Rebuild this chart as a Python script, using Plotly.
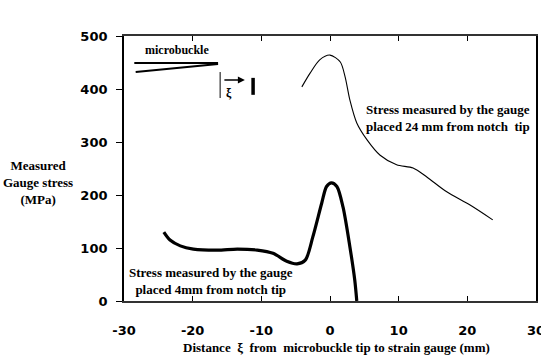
import plotly.graph_objects as go

# Gauge placed 24 mm from notch tip (thin curve)
far_x = [-4.1, -2.9, -1.5, 0.0, 1.5, 2.2, 2.9, 3.9, 5.4, 7.3, 9.7, 12.1, 14.1, 17.0, 20.4, 23.7]
far_y = [404, 430, 455, 464, 451, 423, 379, 336, 304, 275, 257, 251, 234, 206, 181, 153]

# Gauge placed 4 mm from notch tip (thick curve)
near_x = [-24.2, -23.3, -21.8, -19.9, -16.4, -13.5, -10.6, -8.3, -6.3, -4.8, -3.6, -2.5, -1.2, -0.5, 0.2, 1.0, 1.9, 2.9, 3.6, 3.9]
near_y = [130, 115, 104, 98, 96, 98, 96, 90, 75, 70, 77, 121, 185, 216, 223, 216, 177, 102, 40, 0]

x_ticks = [-30, -20, -10, 0, 10, 20, 30]
y_ticks = [0, 100, 200, 300, 400, 500]

serif = "Liberation Serif"
tickfont = dict(family="DejaVu Sans", size=13, color="black")

fig = go.Figure()
fig.add_trace(go.Scatter(x=far_x, y=far_y, mode="lines",
                         line=dict(color="black", width=1.1, shape="spline", smoothing=0.8),
                         showlegend=False, hoverinfo="skip"))
fig.add_trace(go.Scatter(x=near_x, y=near_y, mode="lines",
                         line=dict(color="black", width=3.2, shape="spline", smoothing=0.8),
                         showlegend=False, hoverinfo="skip"))

fig.update_xaxes(range=[-30, 30], tickvals=x_ticks, ticktext=["<b>%d</b>" % v for v in x_ticks],
                 ticks="inside", ticklen=5, tickwidth=1.2, tickcolor="black",
                 showline=True, linecolor="#333", linewidth=1.5, mirror="ticks",
                 showgrid=False, zeroline=False, tickfont=tickfont,
                 ticklabelstandoff=17, ticklabeloverflow="allow")
fig.update_yaxes(range=[0, 500], tickvals=y_ticks, ticktext=["<b>%d</b>" % v for v in y_ticks],
                 ticks="outside", ticklen=6, tickwidth=1.2, tickcolor="black",
                 showline=True, linecolor="black", linewidth=1.8, mirror=True,
                 showgrid=False, zeroline=False, tickfont=tickfont,
                 ticklabelstandoff=6)

fig.update_layout(
    width=541, height=356,
    paper_bgcolor="white", plot_bgcolor="white",
    showlegend=False,
    margin=dict(l=124, r=5, t=36, b=55, autoexpand=False),
)

ann_font = dict(family=serif, size=13, color="black")
annotations = [
    dict(text="<b>Stress measured by the gauge<br>placed 24 mm from notch  tip</b>",
         x=17.2, y=345, xref="x", yref="y", showarrow=False, align="center", font=ann_font),
    dict(text="<b>Stress measured by the gauge<br>placed 4mm from notch tip</b>",
         x=-17.3, y=38, xref="x", yref="y", showarrow=False, align="center", font=ann_font),
    dict(text="<b>microbuckle</b>", x=-22.3, y=474, xref="x", yref="y", showarrow=False,
         font=dict(family=serif, size=12, color="black")),
    dict(text="<b>ξ</b>", x=-14.7, y=392, xref="x", yref="y", showarrow=False,
         font=dict(family=serif, size=12, color="black")),
    dict(x=-12.4, y=417, ax=-15.6, ay=417, xref="x", yref="y", axref="x", ayref="y",
         showarrow=True, arrowhead=2, arrowsize=1, arrowwidth=1.4, arrowcolor="black", text=""),
    dict(text="<b>Measured<br>Gauge stress<br>(MPa)</b>", x=-0.209, y=0.449, xref="paper", yref="paper",
         xanchor="center", yanchor="middle",
         showarrow=False, align="center", font=ann_font),
    dict(text="<b>Distance  ξ  from  microbuckle tip to strain gauge (mm)</b>", x=0.515, y=-0.174,
         xref="paper", yref="paper", xanchor="center", yanchor="middle",
         showarrow=False, font=ann_font),
]
fig.update_layout(annotations=annotations)

shapes = [
    # microbuckle sketch
    dict(type="line", x0=-28.5, y0=449, x1=-16.3, y1=449, xref="x", yref="y",
         line=dict(color="black", width=2)),
    dict(type="line", x0=-28.3, y0=432, x1=-16.3, y1=447, xref="x", yref="y",
         line=dict(color="black", width=2)),
    dict(type="line", x0=-16.0, y0=432, x1=-16.0, y1=383, xref="x", yref="y",
         line=dict(color="black", width=1)),
    dict(type="line", x0=-11.2, y0=421, x1=-11.2, y1=389, xref="x", yref="y",
         line=dict(color="black", width=3.5)),
]
fig.update_layout(shapes=shapes)

fig.write_html("out.html")
